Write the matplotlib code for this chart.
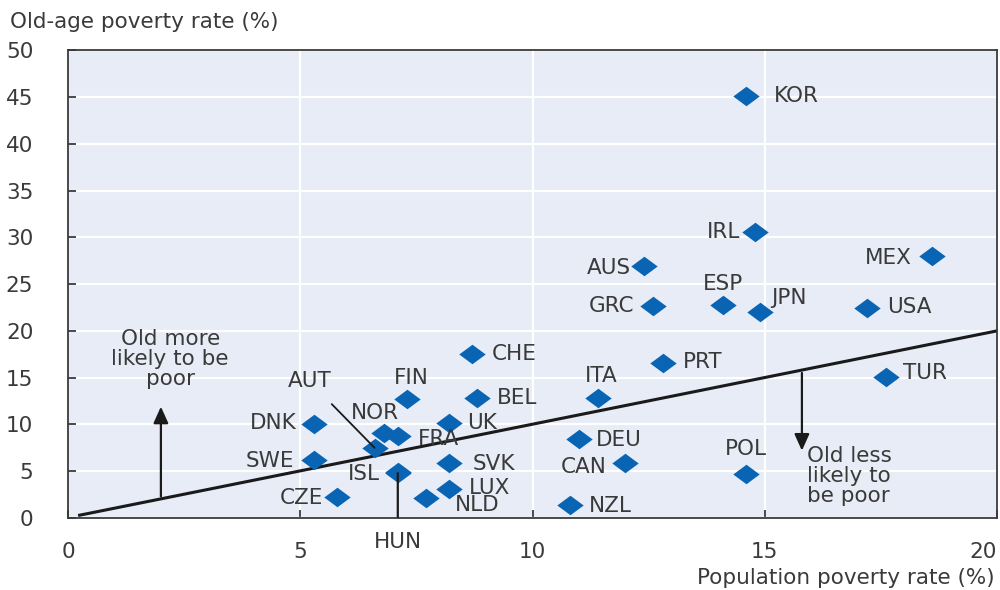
import matplotlib
matplotlib.use("Agg")
import matplotlib.pyplot as plt
from matplotlib.path import Path

INK = "#3a3a3a"
BLUE = "#0a64b4"
PANEL = "#e7ecf6"

countries = ["KOR", "IRL", "MEX", "AUS", "GRC", "ESP", "JPN", "USA", "PRT", "TUR",
             "CHE", "ITA", "BEL", "FIN", "UK", "DNK", "SWE", "CZE", "NOR", "FRA",
             "AUT", "ISL", "HUN", "SVK", "LUX", "NLD", "DEU", "CAN", "POL", "NZL"]
population_rate = [14.6, 14.8, 18.6, 12.4, 12.6, 14.1, 14.9, 17.2, 12.8, 17.6,
                   8.7, 11.4, 8.8, 7.3, 8.2, 5.3, 5.3, 5.8, 6.8, 7.1,
                   6.6, 7.1, 7.1, 8.2, 8.2, 7.7, 11.0, 12.0, 14.6, 10.8]
old_age_rate = [45.1, 30.6, 28.0, 26.9, 22.7, 22.8, 22.0, 22.4, 16.6, 15.1,
                17.5, 12.8, 12.8, 12.7, 10.2, 10.1, 6.2, 2.2, 9.1, 8.8,
                7.5, 4.9, 4.8, 5.9, 3.1, 2.1, 8.4, 5.9, 4.7, 1.4]

# label offsets in pixels (dx, dy, ha)
offsets = {
    "KOR": (28, 0, "left"), "IRL": (-15, 0, "right"), "MEX": (-20, -2, "right"),
    "AUS": (-13, -2, "right"), "GRC": (-19, 0, "right"), "ESP": (0, 21, "center"),
    "JPN": (11, 14, "left"), "USA": (20, 1, "left"), "PRT": (20, 1, "left"),
    "TUR": (17, 4, "left"), "CHE": (20, 0, "left"), "ITA": (4, 22, "center"),
    "BEL": (20, 0, "left"), "FIN": (4, 21, "center"), "UK": (18, 0, "left"),
    "DNK": (-18, 1, "right"), "SWE": (-20, -1, "right"), "CZE": (-14, -1, "right"),
    "NOR": (-9, 20, "center"), "FRA": (20, -3, "left"), "ISL": (-18, -2, "right"),
    "SVK": (24, -1, "left"), "LUX": (20, 1, "left"), "NLD": (29, -7, "left"),
    "DEU": (17, -1, "left"), "CAN": (-19, -4, "right"), "POL": (0, 25, "center"),
    "NZL": (19, -1, "left"),
}

# slightly wide diamond, as in the source figure
diamond = Path([(-1, 0), (0, 0.74), (1, 0), (0, -0.74), (-1, 0)],
               [Path.MOVETO, Path.LINETO, Path.LINETO, Path.LINETO, Path.CLOSEPOLY])

plt.rcParams.update({"font.family": ["DejaVu Sans"], "text.color": INK})
FS = 15.5

fig = plt.figure(figsize=(10, 5.9), dpi=100)
ax = fig.add_axes([0.068, 0.122, 0.929, 0.793])
ax.set_facecolor(PANEL)
ax.set_xlim(0, 20)
ax.set_ylim(0, 50)
ax.set_xticks([0, 5, 10, 15, 20])
ax.set_yticks(range(0, 51, 5))
ax.grid(color="white", lw=1.6)
ax.set_axisbelow(True)
ax.tick_params(direction="in", length=6, width=1.3, color=INK, labelsize=FS, labelcolor=INK)
ax.tick_params(axis="x", pad=17)
ax.tick_params(axis="y", pad=25)
ax.get_xticklabels()[-1].set_horizontalalignment("right")
for side in ax.spines.values():
    side.set_color(INK)
    side.set_linewidth(1.3)

# 45-degree reference line
ax.plot([0.25, 20], [0.3, 20], color="#1a1a1a", lw=2.2, zorder=2)

ax.plot(population_rate, old_age_rate, ls="none", marker=diamond, color=BLUE, ms=19,
        mec=BLUE, mew=0, zorder=3)

for name, x, y in zip(countries, population_rate, old_age_rate):
    if name in offsets:
        dx, dy, ha = offsets[name]
        ax.annotate(name, (x, y), xytext=(dx, dy), textcoords="offset pixels",
                    ha=ha, va="center", fontsize=FS, color=INK, zorder=4)

# leader lines
aut = countries.index("AUT")
ax.annotate("AUT", (population_rate[aut], old_age_rate[aut]), xytext=(5.2, 14.6),
            ha="center", va="center", fontsize=FS, color=INK,
            arrowprops=dict(arrowstyle="-", color="#1a1a1a", lw=1.3, shrinkA=10, shrinkB=0))
hun = countries.index("HUN")
ax.annotate("HUN", (population_rate[hun], old_age_rate[hun]), xytext=(7.1, -2.6),
            ha="center", va="center", fontsize=FS, color=INK, annotation_clip=False,
            arrowprops=dict(arrowstyle="-", color="#1a1a1a", lw=1.6, shrinkA=9, shrinkB=0))

# direction notes
ax.annotate("", xy=(2.0, 12.2), xytext=(2.0, 2.0),
            arrowprops=dict(arrowstyle="-|>,head_width=0.45,head_length=1.0", color="#1a1a1a", lw=1.6))
ax.text(2.2, 20.2, "Old more\nlikely to be\npoor", ha="center", va="top", fontsize=FS,
        linespacing=1.0, color=INK)
ax.annotate("", xy=(15.8, 6.9), xytext=(15.8, 15.8),
            arrowprops=dict(arrowstyle="-|>,head_width=0.45,head_length=1.0", color="#1a1a1a", lw=1.6))
ax.text(15.9, 7.7, "Old less\nlikely to\nbe poor", ha="left", va="top", fontsize=FS,
        linespacing=1.0, color=INK)

fig.text(0.010, 0.962, "Old-age poverty rate (%)", ha="left", va="center", fontsize=FS, color=INK)
fig.text(0.995, 0.021, "Population poverty rate (%)", ha="right", va="center", fontsize=FS, color=INK)

fig.savefig("out.png", dpi=100)
